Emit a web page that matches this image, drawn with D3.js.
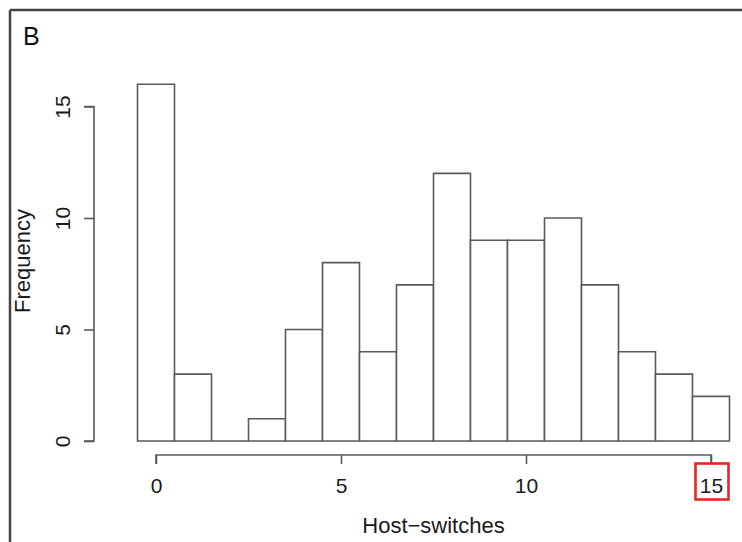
<!DOCTYPE html>
<html>
<head>
<meta charset="utf-8">
<script src="https://cdn.jsdelivr.net/npm/d3@7"></script>
<style>
  html, body { margin: 0; padding: 0; background: #fff; }
  svg { display: block; font-family: "Liberation Sans", Arial, sans-serif; }
</style>
</head>
<body>
<svg id="chart" width="742" height="542"></svg>
<script>
// Histogram bins: centers 0..15 (unit width), frequencies
const binCenters = [0, 1, 2, 3, 4, 5, 6, 7, 8, 9, 10, 11, 12, 13, 14, 15];
const frequencies = [16, 3, 0, 1, 5, 8, 4, 7, 12, 9, 9, 10, 7, 4, 3, 2];
const xTicks = [0, 5, 10, 15];
const yTicks = [0, 5, 10, 15];
const xLabel = "Host\u2212switches";
const yLabel = "Frequency";
const panelLabel = "B";
const highlightedTick = 15;

const svg = d3.select("#chart");
const x = d3.scaleLinear().domain([0, 15]).range([156, 711]);
const y = d3.scaleLinear().domain([0, 15]).range([441, 106.5]);
const lineColor = "#5a5a5a";

// Figure frame (top and left edges only, cropped)
svg.append("line").attr("x1", 10).attr("x2", 742).attr("y1", 10).attr("y2", 10)
  .attr("stroke", "#444").attr("stroke-width", 2.5);
svg.append("line").attr("x1", 10).attr("x2", 10).attr("y1", 10).attr("y2", 542)
  .attr("stroke", "#444").attr("stroke-width", 2.5);

// Panel label
svg.append("text").attr("x", 23).attr("y", 45).attr("font-size", 25)
  .attr("fill", "#111").text(panelLabel);

// Bars (drawn as closed paths so that empty bins still show a base line)
const bars = binCenters.map((c, i) => ({ c, v: frequencies[i] }));
svg.append("g").selectAll("path").data(bars).join("path")
  .attr("d", d => {
    const x0 = x(d.c - 0.5), x1 = x(d.c + 0.5), y0 = y(0), y1 = y(d.v);
    return `M${x0},${y0}V${y1}H${x1}V${y0}Z`;
  })
  .attr("fill", "#fff")
  .attr("stroke", lineColor)
  .attr("stroke-width", 1.6);

// X axis
const xAxis = svg.append("g").attr("transform", "translate(0,455)")
  .call(d3.axisBottom(x).tickValues(xTicks).tickSize(9).tickPadding(14).tickSizeOuter(0));
xAxis.select(".domain").attr("stroke", lineColor).attr("stroke-width", 1.6)
  .attr("d", `M${x(0)},9V0H${x(15)}V9`);
xAxis.selectAll(".tick line").attr("stroke", lineColor).attr("stroke-width", 1.6);
xAxis.selectAll(".tick text").attr("font-size", 21).attr("fill", "#1a1a1a")
  .attr("font-family", "'Liberation Sans', Arial, sans-serif");

// Y axis
const yAxis = svg.append("g").attr("transform", "translate(94,0)")
  .call(d3.axisLeft(y).tickValues(yTicks).tickSize(10).tickSizeOuter(0));
yAxis.select(".domain").attr("stroke", lineColor).attr("stroke-width", 1.6)
  .attr("d", `M-10,${y(0)}H0V${y(15)}H-10`);
yAxis.selectAll(".tick line").attr("stroke", lineColor).attr("stroke-width", 1.6);
yAxis.selectAll(".tick text")
  .attr("font-size", 21).attr("fill", "#1a1a1a")
  .attr("font-family", "'Liberation Sans', Arial, sans-serif")
  .attr("x", null).attr("dy", null)
  .attr("text-anchor", "middle")
  .attr("transform", "translate(-24,0) rotate(-90)");

// Highlight box around the last x tick label
const hx = x(highlightedTick);
svg.append("rect")
  .attr("x", hx - 15.5).attr("y", 463.5)
  .attr("width", 33).attr("height", 36)
  .attr("fill", "none").attr("stroke", "#e32626").attr("stroke-width", 2.6);

// Axis titles
svg.append("text").attr("x", (x(-0.5) + x(15.5)) / 2).attr("y", 533)
  .attr("text-anchor", "middle").attr("font-size", 22).attr("fill", "#1a1a1a")
  .text(xLabel);
svg.append("text")
  .attr("transform", `translate(30,${261}) rotate(-90)`)
  .attr("text-anchor", "middle").attr("font-size", 22).attr("fill", "#1a1a1a")
  .text(yLabel);
</script>
</body>
</html>
